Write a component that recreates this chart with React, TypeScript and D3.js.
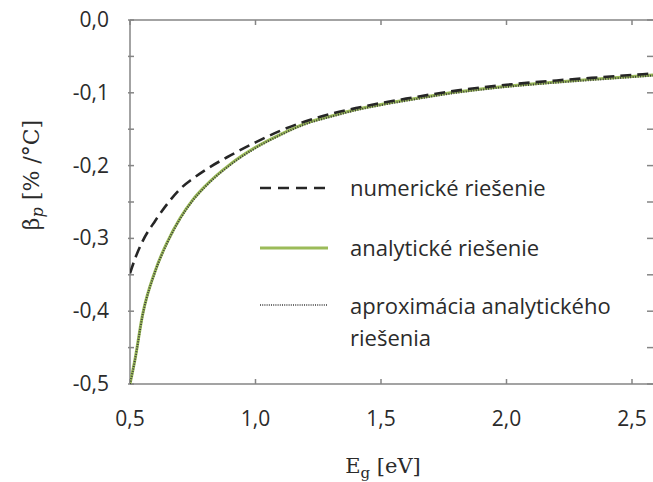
import React from "react";
import * as d3 from "d3";

const xValues = [0.5, 0.52, 0.55, 0.6, 0.65, 0.7, 0.75, 0.8, 0.9, 1.0, 1.1, 1.2, 1.3, 1.4, 1.5, 1.6, 1.8, 2.0, 2.2, 2.4, 2.6];
const numerical = [-0.348, -0.328, -0.304, -0.276, -0.252, -0.232, -0.218, -0.206, -0.186, -0.168, -0.152, -0.139, -0.129, -0.121, -0.114, -0.108, -0.097, -0.089, -0.083, -0.078, -0.073];
const analytic = [-0.5, -0.466, -0.405, -0.345, -0.304, -0.272, -0.247, -0.228, -0.198, -0.175, -0.157, -0.142, -0.132, -0.123, -0.116, -0.110, -0.099, -0.091, -0.085, -0.080, -0.075];
const approx = [-0.5, -0.467, -0.406, -0.346, -0.305, -0.273, -0.248, -0.229, -0.199, -0.176, -0.158, -0.143, -0.133, -0.124, -0.117, -0.111, -0.100, -0.092, -0.086, -0.081, -0.076];
const xTicks = [0.5, 1.0, 1.5, 2.0, 2.5];
const yTicks = [0, -0.1, -0.2, -0.3, -0.4, -0.5];
const yMinorTicks = [0, -0.05, -0.1, -0.15, -0.2, -0.25, -0.3, -0.35, -0.4, -0.45, -0.5];
const legendLabels = ["numerické riešenie", "analytické riešenie", "aproximácia analytického", "riešenia"];

const fmt = (v: number) => d3.format(".1f")(v).replace(".", ",").replace("−", "-");

export default function App() {
  const x = d3.scaleLinear().domain([0.5, 2.5]).range([130, 632]);
  const y = d3.scaleLinear().domain([0, -0.5]).range([20, 384]);
  const left = x(0.5), right = 654, top = y(0), bottom = y(-0.5);
  const line = (vals: number[]) =>
    d3.line<number>().x((_, i) => x(xValues[i])).y((d) => y(d)).curve(d3.curveMonotoneX)(vals) || "";
  const axisColor = "#858585";
  const textColor = "#2b2b2b";
  const tickFont = "'Open Sans', sans-serif";
  const serif = "'DejaVu Serif', 'Liberation Serif', serif";
  const green = "#9bbb59";
  return (
    <svg width={653} height={482} style={{ position: "absolute", left: 0, top: 0, background: "#fff" }}>
      <rect x={0} y={0} width={653} height={482} fill="#fff" />
      <defs>
        <clipPath id="plot">
          <rect x={left} y={top} width={right - left} height={bottom - top} />
        </clipPath>
      </defs>
      {/* frame */}
      <line x1={left} x2={right} y1={top} y2={top} stroke={axisColor} strokeWidth={1.5} />
      <line x1={left} x2={right} y1={bottom} y2={bottom} stroke={axisColor} strokeWidth={1.5} />
      <line x1={left} x2={left} y1={top} y2={bottom} stroke={axisColor} strokeWidth={1.5} />
      <line x1={right} x2={right} y1={top} y2={bottom} stroke={axisColor} strokeWidth={1.5} />
      {yMinorTicks.map((t) => (
        <g key={"ym" + t}>
          <line x1={left - 2} x2={left + 4} y1={y(t)} y2={y(t)} stroke={axisColor} strokeWidth={1.5} />
          <line x1={right - 7} x2={right} y1={y(t)} y2={y(t)} stroke={axisColor} strokeWidth={1.5} />
        </g>
      ))}
      {xTicks.map((t) => (
        <g key={"xt" + t}>
          <line x1={x(t)} x2={x(t)} y1={bottom} y2={bottom - 5} stroke={axisColor} strokeWidth={1.5} />
          <line x1={x(t)} x2={x(t)} y1={top} y2={top + 5} stroke={axisColor} strokeWidth={1.5} />
          <text x={x(t)} y={426} textAnchor="middle" fontFamily={tickFont} fontSize={21} fill={textColor}>
            {fmt(t)}
          </text>
        </g>
      ))}
      {yTicks.map((t) => (
        <text key={"yt" + t} x={109} y={y(t) + 7} textAnchor="end" fontFamily={tickFont} fontSize={21} fill={textColor}>
          {fmt(t)}
        </text>
      ))}
      {/* curves */}
      <g clipPath="url(#plot)" fill="none">
        <path d={line(analytic)} stroke={green} strokeWidth={3} />
        <path d={line(approx)} stroke="#3a3a3a" strokeWidth={2} strokeDasharray="1,1.5" />
        <path d={line(numerical)} stroke="#262626" strokeWidth={2.6} strokeDasharray="11,6" />
      </g>
      {/* legend */}
      <g fontFamily={tickFont} fontSize={22} fill={textColor}>
        <line x1={260} x2={328} y1={188} y2={188} stroke="#262626" strokeWidth={2.6} strokeDasharray="11,7" />
        <text x={350} y={196}>{legendLabels[0]}</text>
        <line x1={260} x2={328} y1={248} y2={248} stroke={green} strokeWidth={3} />
        <text x={350} y={256}>{legendLabels[1]}</text>
        <line x1={260} x2={328} y1={305} y2={305} stroke="#3a3a3a" strokeWidth={1.5} strokeDasharray="1,1.2" />
        <text x={350} y={314}>{legendLabels[2]}</text>
        <text x={350} y={346}>{legendLabels[3]}</text>
      </g>
      {/* axis titles */}
      <text x={383} y={473} textAnchor="middle" fontFamily={serif} fontSize={21} fill={textColor}>
        E<tspan fontSize={15} dy={5}>g</tspan><tspan dy={-5}> [eV]</tspan>
      </text>
      <text
        transform="translate(39,175) rotate(-90)"
        textAnchor="middle"
        fontFamily={serif}
        fontSize={22}
        fill={textColor}
      >
        β<tspan fontSize={16} dy={4} fontStyle="italic">p</tspan><tspan dy={-4}> [% /°C]</tspan>
      </text>
    </svg>
  );
}
